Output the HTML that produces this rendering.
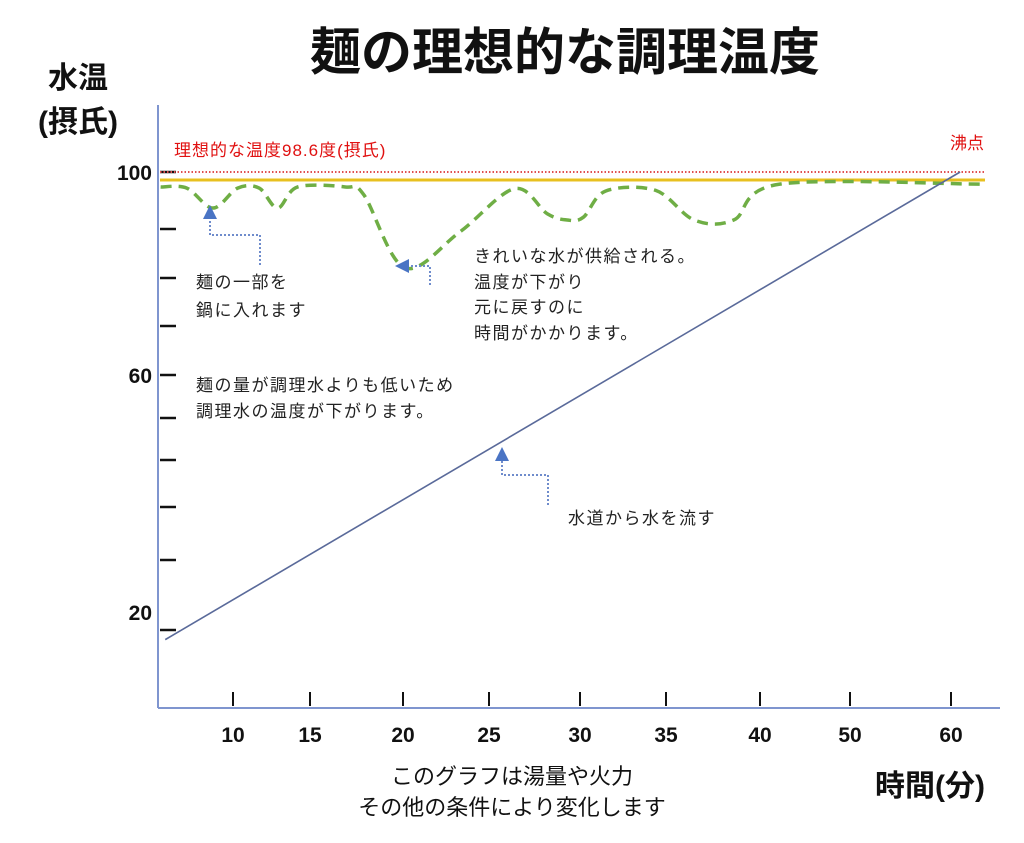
<!DOCTYPE html>
<html><head><meta charset="utf-8">
<style>
html,body{margin:0;padding:0;background:#fff;}
svg{display:block;font-family:"Liberation Sans","Noto Sans CJK JP",sans-serif;}
.ann{font-size:17px;fill:#222;letter-spacing:1.5px;}
.tick{font-size:21px;font-weight:bold;fill:#111;}
</style></head>
<body>
<svg id="chart" width="1024" height="843" viewBox="0 0 1024 843">
<defs>
<marker id="ah" markerWidth="7" markerHeight="7" refX="3.5" refY="3.5" orient="auto"><path d="M0,0 L7,3.5 L0,7 z" fill="#4a74c4"/></marker>
</defs>
<text x="565" y="70" text-anchor="middle" font-size="51" font-weight="bold" fill="#111">麺の理想的な調理温度</text>
<text x="78" y="88" text-anchor="middle" font-size="30" font-weight="bold" fill="#111">水温</text>
<text x="78" y="132" text-anchor="middle" font-size="30" font-weight="bold" fill="#111">(摂氏)</text>
<text x="930" y="796" text-anchor="middle" font-size="30" font-weight="bold" fill="#111">時間(分)</text>
<text x="512" y="784" text-anchor="middle" font-size="22" fill="#111">このグラフは湯量や火力</text>
<text x="512" y="815" text-anchor="middle" font-size="22" fill="#111">その他の条件により変化します</text>
<line x1="158" y1="105" x2="158" y2="708" stroke="#7f95cf" stroke-width="2"/>
<line x1="158" y1="708" x2="1000" y2="708" stroke="#7f95cf" stroke-width="2"/>
<g id="ticks"></g>
<g id="marks"></g>
<text x="174" y="156" font-size="17" fill="#e01010" letter-spacing="1">理想的な温度98.6度(摂氏)</text>
<text x="950" y="149" font-size="17" fill="#e01010">沸点</text>
<g fill="none" stroke="#6f8ccc" stroke-width="2" stroke-dasharray="2,2">
<polyline points="260,265 260,235 210,235 210,212" marker-end="url(#ah)"/>
<polyline points="430,285 430,266 402,266" marker-end="url(#ah)"/>
<polyline points="548,505 548,475 502,475 502,454" marker-end="url(#ah)"/>
</g>
<text class="ann" x="196" y="288">麺の一部を</text>
<text class="ann" x="196" y="316">鍋に入れます</text>
<text class="ann" x="474" y="262">きれいな水が供給される。</text>
<text class="ann" x="474" y="288">温度が下がり</text>
<text class="ann" x="474" y="313">元に戻すのに</text>
<text class="ann" x="474" y="339">時間がかかります。</text>
<text class="ann" x="196" y="391">麺の量が調理水よりも低いため</text>
<text class="ann" x="196" y="417">調理水の温度が下がります。</text>
<text class="ann" x="568" y="524">水道から水を流す</text>
</svg>
<script>
const xTickVals=[10,15,20,25,30,35,40,50,60];
const yTickVals=[100,90,80,70,60,52,44,36,28,20];
const yLabelVals=[100,60,20];
const idealTemp=98.6;
const boilTemp=100;
const pastaMin=[5.3,7.0,8.7,10.3,11.7,12.9,14.2,16.9,17.9,20.1,23.3,26.4,28.2,29.3,30.2,31.5,34.4,36.5,38.6,42.2,62.9];
const pastaTemp=[97.9,97.7,94.2,97.7,97.7,94.2,97.9,97.9,96.5,82.7,90,97.6,93.2,92.1,92.6,97.2,97.3,92.1,92.1,98.4,98.4];
const tapMin=[5.6,60.9];
const tapTemp=[18.9,100];
const xKnotPx=[233,310,403,489,580,666,760,850,951];
const yKnotPx=[172,229,278,326,375,418,460,507,560,630];
function interp(v,vals,px){
  const n=vals.length;
  let i=0;
  const asc=vals[1]>vals[0];
  for(i=0;i<n-2;i++){ if(asc? v<vals[i+1] : v>vals[i+1]) break; }
  const t=(v-vals[i])/(vals[i+1]-vals[i]);
  return px[i]+t*(px[i+1]-px[i]);
}
const X=v=>interp(v,xTickVals,xKnotPx);
const Y=v=>interp(v,yTickVals,yKnotPx);
const NS="http://www.w3.org/2000/svg";
const ticks=document.getElementById('ticks');
const marks=document.getElementById('marks');
function mk(tag,attrs,parent){const e=document.createElementNS(NS,tag);for(const k in attrs)e.setAttribute(k,attrs[k]);parent.appendChild(e);return e;}
function smooth(pts){
  let d='M'+pts[0][0]+','+pts[0][1];
  for(let i=0;i<pts.length-1;i++){
    const p0=pts[Math.max(0,i-1)],p1=pts[i],p2=pts[i+1],p3=pts[Math.min(pts.length-1,i+2)];
    const c1x=p1[0]+(p2[0]-p0[0])/6,c1y=p1[1]+(p2[1]-p0[1])/6;
    const c2x=p2[0]-(p3[0]-p1[0])/6,c2y=p2[1]-(p3[1]-p1[1])/6;
    d+=' C'+c1x+','+c1y+' '+c2x+','+c2y+' '+p2[0]+','+p2[1];
  }
  return d;
}
xTickVals.forEach(v=>{
  const l=mk('line',{x1:X(v),x2:X(v),y1:692,y2:706,stroke:'#111','stroke-width':2},ticks);
  
  
  const t=mk('text',{x:X(v),y:742,'text-anchor':'middle',class:'tick'},ticks);
  t.textContent=v;
  
  
});
yTickVals.forEach(v=>{
  const l=mk('line',{x1:160,x2:176,y1:Y(v),y2:Y(v),stroke:'#111','stroke-width':2.5},ticks);
  
  
});
yLabelVals.forEach(v=>{
  const off = v===20 ? -10 : 8;
  const t=mk('text',{x:152,y:Y(v)+off,'text-anchor':'end',class:'tick'},ticks);
  t.textContent=v;
  
  
});
const bl=mk('line',{x1:160,x2:985,y1:Y(boilTemp),y2:Y(boilTemp),stroke:'#e05050','stroke-width':2,'stroke-dasharray':'1.5,2'},marks);


const il=mk('line',{x1:160,x2:985,y1:Y(idealTemp),y2:Y(idealTemp),stroke:'#e8c020','stroke-width':3},marks);


const pp=mk('path',{d:smooth(pastaMin.map((m,i)=>[X(m),Y(pastaTemp[i])+3])),fill:'none',stroke:'#6fae45','stroke-width':3.5,'stroke-dasharray':'11,7'},marks);


const tl=mk('polyline',{points:tapMin.map((m,i)=>X(m)+','+Y(tapTemp[i])).join(' '),fill:'none',stroke:'#5a6a9a','stroke-width':1.6},marks);


</script>
</body></html>
